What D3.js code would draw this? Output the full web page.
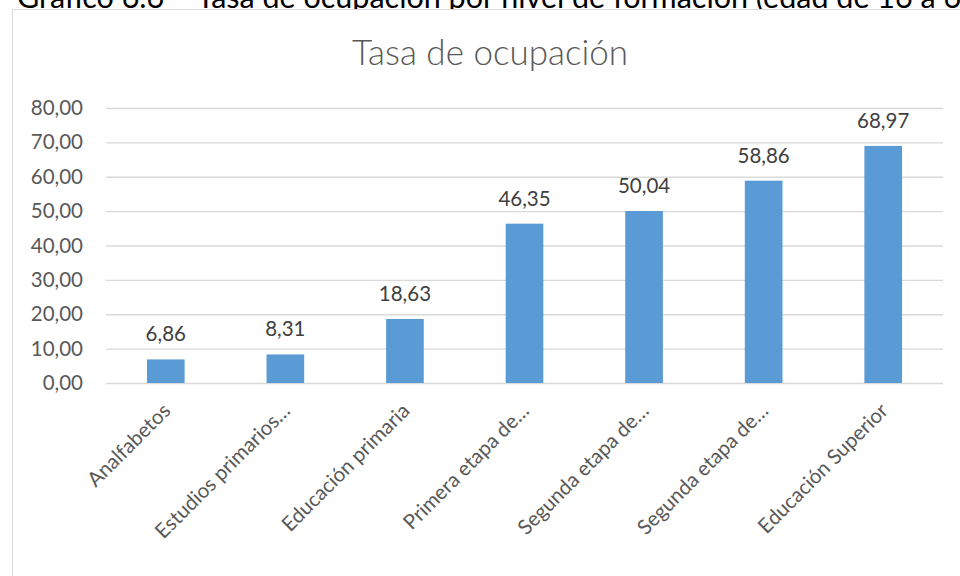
<!DOCTYPE html>
<html>
<head>
<meta charset="utf-8">
<script src="https://cdn.jsdelivr.net/npm/d3@7"></script>
<style>
  body { margin: 0; background: #fff; }
  svg { display: block; font-family: Lato, "Open Sans", sans-serif; }
</style>
</head>
<body>
<div id="chart"></div>
<script>
// Data
const categories = ["Analfabetos", "Estudios primarios\u2026", "Educación primaria",
  "Primera etapa de\u2026", "Segunda etapa de\u2026", "Segunda etapa de\u2026", "Educación Superior"];
const values = [6.86, 8.31, 18.63, 46.35, 50.04, 58.86, 68.97];
const yTicks = [0, 10, 20, 30, 40, 50, 60, 70, 80];
const chartTitle = "Tasa de ocupación";
const pageHeading = "Gráfico 6.6 \u2013 Tasa de ocupación por nivel de formación (edad de 16 a 64 años)";

const W = 960, H = 576;
const margin = {top: 108, right: 17, bottom: 193, left: 106},
  width = W - margin.left - margin.right,
  height = H - margin.top - margin.bottom;

const locale = d3.formatLocale({decimal: ",", thousands: ".", grouping: [3], currency: ["", "€"]});
const fmt = locale.format(".2f");

const svg = d3.select("#chart")
  .append("svg")
    .attr("width", W)
    .attr("height", H);

// heading of the document, cut off at the top like in the source
svg.append("text")
  .attr("x", 17)
  .attr("y", 8)
  .attr("font-size", 30.5)
  .attr("fill", "#000")
  .text(pageHeading);

// chart border
svg.append("rect")
  .attr("x", 12.5)
  .attr("y", 9.5)
  .attr("width", 980)
  .attr("height", 600)
  .attr("fill", "#fff")
  .attr("stroke", "#d9d9d9");

// chart title
svg.append("text")
  .attr("x", 490)
  .attr("y", 65)
  .attr("text-anchor", "middle")
  .attr("font-size", 35)
  .attr("font-weight", 300)
  .attr("fill", "#595959")
  .text(chartTitle);

const g = svg.append("g")
  .attr("transform", "translate(" + margin.left + "," + margin.top + ")");

const x = d3.scaleBand()
  .domain(d3.range(categories.length))
  .range([0, width])
  .paddingInner(0.685)
  .paddingOuter(0.3425);

const y = d3.scaleLinear()
  .domain([0, 80])
  .range([height, 0]);

// Y axis with gridlines
const yAxis = g.append("g")
  .call(d3.axisLeft(y).tickValues(yTicks).tickFormat(fmt).tickSize(-width).tickPadding(23));
yAxis.select(".domain").remove();
yAxis.selectAll(".tick line").attr("stroke", "#d9d9d9").attr("stroke-width", 1.3);
yAxis.selectAll(".tick text")
  .attr("font-size", 20.5)
  .attr("fill", "#595959")
  .attr("font-family", "Lato, 'Open Sans', sans-serif");

// bars
g.selectAll("rect.bar")
  .data(values)
  .enter()
  .append("rect")
    .attr("class", "bar")
    .attr("x", (d, i) => x(i))
    .attr("y", d => y(d))
    .attr("width", x.bandwidth())
    .attr("height", d => height - y(d))
    .attr("fill", "#5b9bd5");

// data labels
g.selectAll("text.val")
  .data(values)
  .enter()
  .append("text")
    .attr("class", "val")
    .attr("x", (d, i) => x(i) + x.bandwidth() / 2)
    .attr("y", d => y(d) - 18)
    .attr("text-anchor", "middle")
    .attr("font-size", 20.5)
    .attr("fill", "#404040")
    .text(d => fmt(d));

// X axis labels, rotated
const xAxis = g.append("g")
  .attr("transform", "translate(0," + height + ")")
  .call(d3.axisBottom(x).tickFormat(i => categories[i]).tickSize(0).tickPadding(0));
xAxis.select(".domain").remove();
xAxis.selectAll(".tick text")
  .attr("font-size", 20.5)
  .attr("fill", "#595959")
  .attr("font-family", "Lato, 'Open Sans', sans-serif")
  .attr("text-anchor", "end")
  .attr("dy", "0")
  .attr("y", 0)
  .attr("transform", "translate(6,29) rotate(-45)");
</script>
</body>
</html>
